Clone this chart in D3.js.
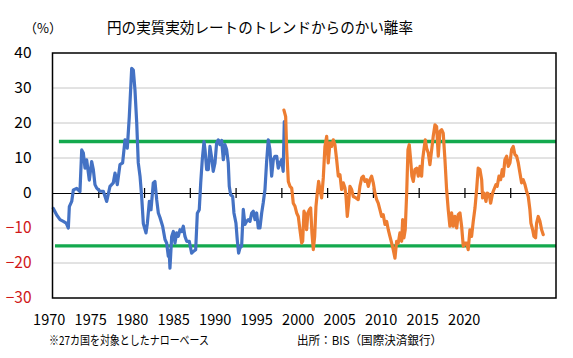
<!DOCTYPE html>
<html><head><meta charset="utf-8">
<script src="https://cdn.jsdelivr.net/npm/d3@7/dist/d3.min.js"></script>
<style>
html,body{margin:0;padding:0;background:#fff;}
svg{display:block;font-family:"Noto Sans CJK JP","Noto Sans",sans-serif;}
</style></head>
<body>
<svg id="c" width="573" height="358"></svg>
<script>
// ---- data (year, deviation %) ----
const titleText = "円の実質実効レートのトレンドからのかい離率";
const unitText = "（%）";
const noteText = "※27カ国を対象としたナローベース";
const sourceText = "出所：BIS（国際決済銀行）";
const yTicks = [40, 30, 20, 10, 0, -10, -20, -30];
const xLabels = ["1970","1975","1980","1985","1990","1995","2000","2005","2010","2015","2020"];
const xTickYears = [1975,1980,1985,1990,1995,2000,2005,2010,2015,2020];
const upperBand = [[1970.7, 14.7], [2025, 14.7]];
const lowerBand = [[1970.27, -15.1], [2025, -15.1]];
const blueSeries = [
[1970.09,-4.4],[1970.46,-6.3],[1970.82,-7.6],[1971.18,-8.1],[1971.5,-8.6],[1971.73,-10],[1971.84,-3.9],
[1972.1,-2.4],[1972.28,0.9],[1972.64,1.3],[1973.0,0.4],[1973.19,12.3],[1973.37,11.4],[1973.55,7.1],
[1973.73,9.5],[1974.02,3.7],[1974.28,9],[1974.46,6.7],[1974.64,2.4],[1974.83,1.4],[1975.19,0.5],
[1975.55,0.5],[1975.92,-2.4],[1976.28,1.9],[1976.64,2.9],[1976.83,5.7],[1977.08,2.4],[1977.37,8.1],
[1977.66,8.6],[1977.92,15.2],[1978.17,12.8],[1978.39,21.8],[1978.65,35.6],[1978.83,35.1],[1979.01,29.4],
[1979.2,20],[1979.37,8.6],[1979.56,4.8],[1979.74,-1],[1979.92,-8.7],[1980.21,-11.4],[1980.36,-8.7],
[1980.58,-2.4],[1980.76,-4.8],[1981.01,2.9],[1981.19,3.3],[1981.38,-1.9],[1981.56,-5.7],[1981.74,-7],
[1982.03,-9.5],[1982.29,-13.3],[1982.47,-14.3],[1982.65,-18.1],[1982.74,-16.5],[1982.83,-21.5],
[1983.02,-12.4],[1983.2,-11],[1983.38,-14.3],[1983.56,-11.4],[1983.74,-12.4],[1983.93,-10.5],
[1984.11,-11],[1984.29,-9.5],[1984.47,-12.4],[1984.66,-13.8],[1984.94,-13.8],[1985.2,-17.2],
[1985.38,-16.7],[1985.64,-16.2],[1985.82,-5.8],[1986.03,-4.8],[1986.19,2.9],[1986.36,9.5],
[1986.55,14.7],[1986.66,12.4],[1986.84,6.7],[1987.02,6.7],[1987.2,13.3],[1987.39,10],[1987.56,6.2],
[1987.75,8.6],[1987.93,14.3],[1988.11,15.2],[1988.29,13.8],[1988.48,15],[1988.66,9.5],[1988.84,13.8],
[1989.02,12.4],[1989.2,8.6],[1989.31,1.9],[1989.46,-0.5],[1989.68,-1],[1989.82,-5.7],[1990.04,-8.6],
[1990.18,-13.3],[1990.33,-17.2],[1990.48,-15.7],[1990.66,-15.2],[1990.84,-4.7],[1991.02,-9],
[1991.21,-8.1],[1991.39,-7.6],[1991.57,-8.1],[1991.76,-5.7],[1991.93,-5.2],[1992.12,-7.6],
[1992.3,-5.7],[1992.48,-10],[1992.66,-10],[1992.85,-5.7],[1993.02,-2.8],[1993.21,1],[1993.39,9],
[1993.57,15.2],[1993.75,12.4],[1993.94,4.8],[1994.12,9.5],[1994.3,10.5],[1994.49,10.5],[1994.66,7.1],
[1994.85,8.6],[1995.03,9.5],[1995.2,6.2],[1995.32,20.4]
];
const orangeSeries = [
[1995.28,23.7],[1995.47,21.8],[1995.58,12.4],[1995.76,3.3],[1995.94,1.9],[1996.13,1.4],[1996.3,-2.9],
[1996.49,-3.8],[1996.67,-5.7],[1996.85,-6.7],[1997.03,-10.5],[1997.22,-14.3],[1997.33,-13.8],
[1997.47,-5.2],[1997.61,-6.2],[1997.76,-10.5],[1997.9,-5.7],[1998.05,-4.8],[1998.2,-4.3],[1998.34,-11.4],
[1998.49,-16.2],[1998.64,-12.4],[1998.78,-3.8],[1998.92,0],[1999.07,3.3],[1999.22,1],[1999.4,-1.4],
[1999.58,4.3],[1999.76,13.3],[1999.95,16.2],[2000.12,8.6],[2000.31,14.3],[2000.49,13.3],[2000.67,15.2],
[2000.85,13.8],[2001.04,9.5],[2001.22,4.8],[2001.4,5.2],[2001.58,1],[2001.76,2.9],[2001.95,1.4],
[2002.06,-1],[2002.2,-6.7],[2002.35,-2.9],[2002.49,1.9],[2002.68,1],[2002.85,-1],[2003.15,-1.4],
[2003.4,-1.9],[2003.58,1.9],[2003.77,4.3],[2003.95,4.8],[2004.13,3.3],[2004.32,3.8],[2004.5,1.9],
[2004.68,3.8],[2004.86,4.8],[2005.04,2.9],[2005.22,0],[2005.41,-1.9],[2005.58,-2.9],[2005.77,-4.8],
[2005.95,-6.7],[2006.13,-6.2],[2006.32,-9],[2006.5,-8.1],[2006.68,-10.5],[2006.86,-12.4],[2007.05,-14.3],
[2007.22,-16.2],[2007.41,-18.6],[2007.59,-13.8],[2007.77,-14.3],[2007.95,-11.4],[2008.14,-13.8],
[2008.25,-7.6],[2008.39,-12.8],[2008.53,-10.5],[2008.69,0],[2008.83,12.4],[2008.97,13.8],[2009.12,9.5],
[2009.26,4.8],[2009.41,3.3],[2009.59,6.7],[2009.78,7.1],[2009.96,4.8],[2010.14,7.6],[2010.32,4.8],
[2010.43,9.5],[2010.57,12.4],[2010.72,15.2],[2010.87,12.8],[2011.05,11.4],[2011.23,8.1],[2011.42,12.4],
[2011.59,16.2],[2011.78,19.5],[2011.96,19],[2012.14,10.5],[2012.32,17.6],[2012.51,18.1],[2012.68,17.1],
[2012.87,9.5],[2013.05,1],[2013.23,-4.8],[2013.41,-9.5],[2013.6,-5.7],[2013.77,-9.5],[2013.96,-6.7],
[2014.15,-10],[2014.32,-6.2],[2014.51,-5.7],[2014.69,-9.5],[2014.87,-15.2],[2015.05,-14.3],
[2015.24,-14.3],[2015.41,-16.2],[2015.6,-10.5],[2015.78,-12.4],[2015.96,-8.1],[2016.15,-4.3],
[2016.33,1],[2016.5,7.1],[2016.69,6.7],[2016.88,3.8],[2016.98,-1.4],[2017.13,0],[2017.35,-2.4],
[2017.49,0],[2017.71,-0.5],[2017.86,-2.9],[2018.08,0],[2018.22,1],[2018.44,2.4],[2018.58,1.9],
[2018.77,4.8],[2018.95,3.8],[2019.13,6.7],[2019.24,4.8],[2019.42,9.5],[2019.61,10.5],[2019.79,7.6],
[2019.97,8.6],[2020.15,12.4],[2020.33,13.3],[2020.51,11],[2020.7,10.5],[2020.88,8.6],[2021.06,5.7],
[2021.24,2.9],[2021.42,3.8],[2021.61,2.4],[2021.79,0.5],[2021.97,-1],[2022.15,-4.8],[2022.26,-8.6],
[2022.45,-10.5],[2022.59,-12.4],[2022.77,-12.8],[2022.88,-8.6],[2023.06,-6.7],[2023.24,-8],
[2023.43,-10.5],[2023.61,-11.9]
];

// ---- layout ----
const svg = d3.select("#c");
const L = 52.5, R = 556, T = 53, B = 298;
const x = d3.scaleLinear().domain([1970, 2025]).range([L, R]);
const y = d3.scaleLinear().domain([-30, 40]).range([B, T]);

// gridlines
svg.append("g").selectAll("line")
  .data(yTicks.filter(v => v !== 0 && v !== 40 && v !== -30))
  .join("line")
  .attr("x1", L).attr("x2", R)
  .attr("y1", d => y(d)).attr("y2", d => y(d))
  .attr("stroke", "#c6c6c6").attr("stroke-width", 1);

// zero axis with ticks crossing
const xAxis = svg.append("g").attr("transform", `translate(0,${y(0)})`)
  .call(d3.axisBottom(x).tickValues(xTickYears).tickSizeInner(5).tickSizeOuter(0).tickFormat(""));
xAxis.select(".domain").attr("stroke", "#000").attr("stroke-width", 1.2);
xAxis.selectAll(".tick line").attr("y1", -5).attr("y2", 5).attr("stroke", "#000").attr("stroke-width", 1.2);

// y labels
const yAxis = svg.append("g").attr("transform", `translate(${L},0)`)
  .call(d3.axisLeft(y).tickValues(yTicks).tickSize(0).tickPadding(21).tickFormat(d3.format("d")));
yAxis.select(".domain").remove();
yAxis.selectAll("text")
  .attr("font-size", 15.5)
  .attr("font-family", "'Noto Sans CJK JP','Noto Sans',sans-serif")
  .attr("fill", d => d < 0 ? "#D01818" : "#000");

// band lines
const line = d3.line().x(d => x(d[0])).y(d => y(d[1]));
[upperBand, lowerBand].forEach(b => {
  svg.append("path").datum(b).attr("d", line)
    .attr("fill", "none").attr("stroke", "#13A94E").attr("stroke-width", 3.4);
});

// series
svg.append("path").datum(blueSeries).attr("d", line)
  .attr("fill", "none").attr("stroke", "#4472C4").attr("stroke-width", 3.2)
  .attr("stroke-linejoin", "round").attr("stroke-linecap", "round");
svg.append("path").datum(orangeSeries).attr("d", line)
  .attr("fill", "none").attr("stroke", "#ED7D31").attr("stroke-width", 3.2)
  .attr("stroke-linejoin", "round").attr("stroke-linecap", "round");

// frame
svg.append("rect").attr("x", L).attr("y", T).attr("width", R - L).attr("height", B - T)
  .attr("fill", "none").attr("stroke", "#000").attr("stroke-width", 1.5);

// title & unit
svg.append("text").attr("x", 107).attr("y", 33).attr("font-size", 15)
  .attr("textLength", 306).attr("lengthAdjust", "spacingAndGlyphs")
  .attr("fill", "#000").text(titleText);
svg.append("text").attr("x", 24).attr("y", 33).attr("font-size", 13).attr("fill", "#000").text(unitText);

// year label row
const lx = d3.scalePoint().domain(xLabels).range([49.2, 464.2]);
svg.append("g").selectAll("text").data(xLabels).join("text")
  .attr("x", d => lx(d)).attr("y", 325).attr("text-anchor", "middle")
  .attr("font-size", 14.5).attr("fill", "#000").text(d => d);

// notes
svg.append("text").attr("x", 49).attr("y", 344.5).attr("font-size", 12)
  .attr("textLength", 160).attr("lengthAdjust", "spacingAndGlyphs")
  .attr("fill", "#000").text(noteText);
svg.append("text").attr("x", 297).attr("y", 344.5).attr("font-size", 12)
  .attr("textLength", 145).attr("lengthAdjust", "spacingAndGlyphs")
  .attr("fill", "#000").text(sourceText);
</script>
</body></html>
